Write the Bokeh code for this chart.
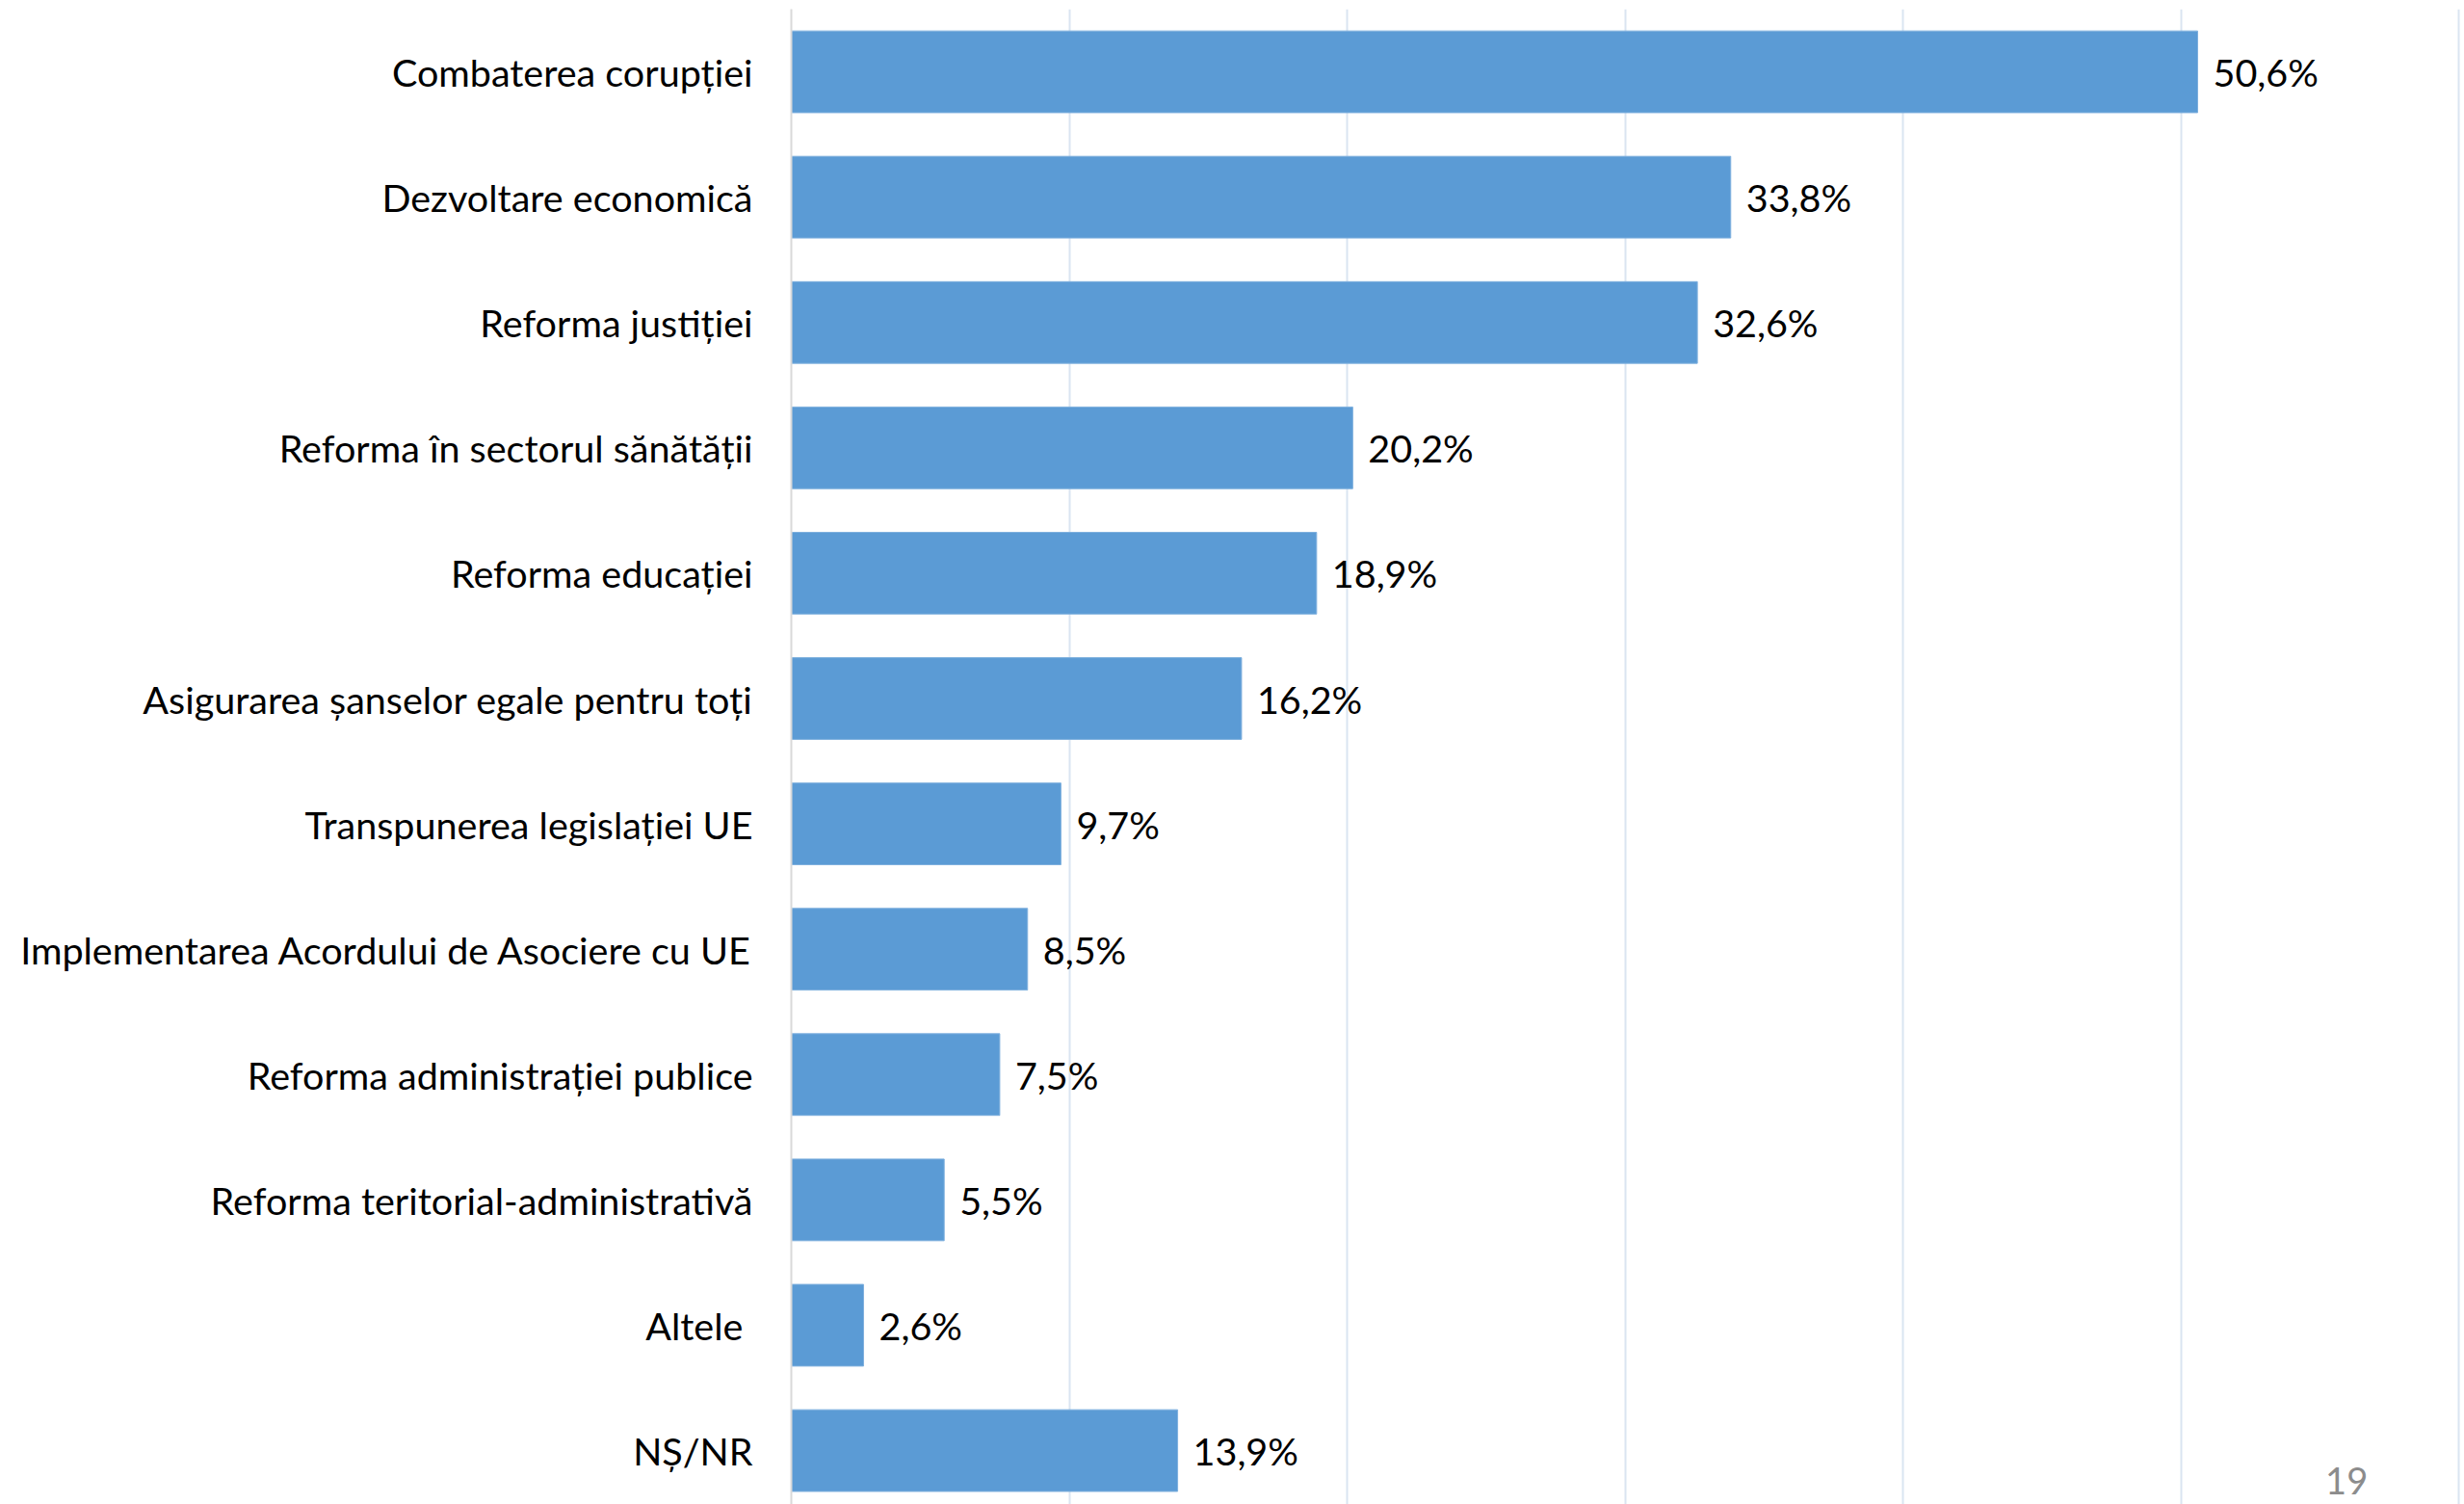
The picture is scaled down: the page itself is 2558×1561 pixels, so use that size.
from bokeh.plotting import figure
from bokeh.models import Range1d, FixedTicker, ColumnDataSource, Label, LabelSet
from bokeh.core.properties import value
from bokeh.embed import file_html
from bokeh.resources import INLINE

categories = [
    "Combaterea corupției",
    "Dezvoltare economică",
    "Reforma justiției",
    "Reforma în sectorul sănătății",
    "Reforma educației",
    "Asigurarea șanselor egale pentru toți",
    "Transpunerea legislației UE",
    "Implementarea Acordului de Asociere cu UE",
    "Reforma administrației publice",
    "Reforma teritorial-administrativă",
    "Altele ",
    "NȘ/NR",
]
values = [50.6, 33.8, 32.6, 20.2, 18.9, 16.2, 9.7, 8.5, 7.5, 5.5, 2.6, 13.9]
grid_ticks = [10, 20, 30, 40, 50, 60]
page_number = "19"

FONT = "Lato"
FS = "39.5px"

pos = list(range(len(categories)))
labels = [f"{v:.1f}".replace(".", ",") + "%" for v in values]
src = ColumnDataSource(dict(y=pos, v=values, lab=labels))

p = figure(width=2558, height=1561, output_backend="svg", toolbar_location=None,
           x_range=Range1d(0, 60.2), y_range=Range1d(11.43, -0.5))
p.min_border_left = 821
p.min_border_right = 0
p.min_border_top = 9
p.min_border_bottom = 0
p.outline_line_color = None
p.background_fill_color = "white"
p.border_fill_color = "white"

p.hbar(y="y", right="v", left=0, height=0.652, source=src,
       fill_color="#5B9BD5", line_color="#7FB0DE", line_width=1)

ls = LabelSet(x="v", y="y", text="lab", source=src, x_offset=16,
              text_baseline="middle", text_align="left",
              text_font=value(FONT), text_font_size=value(FS), text_color="#000000")
p.add_layout(ls)

p.xaxis.visible = False
p.xgrid.ticker = FixedTicker(ticks=grid_ticks)
p.xgrid.grid_line_color = "#DAE5F1"
p.xgrid.grid_line_width = 2
p.ygrid.visible = False

ya = p.yaxis[0]
ya.ticker = FixedTicker(ticks=pos)
ya.major_label_overrides = {i: c for i, c in zip(pos, categories)}
ya.major_tick_line_color = None
ya.minor_tick_line_color = None
ya.axis_line_color = "#D9D9D9"
ya.axis_line_width = 2
ya.major_label_standoff = 34
ya.major_label_text_font = FONT
ya.major_label_text_font_size = FS
ya.major_label_text_color = "#000000"

pn = Label(x=55.96, y=11.24, text=page_number, text_align="center",
           text_baseline="alphabetic", text_font=FONT, text_font_size="38px",
           text_color="#8C8C8C")
p.add_layout(pn)

open("out.html", "w").write(file_html(p, INLINE))
